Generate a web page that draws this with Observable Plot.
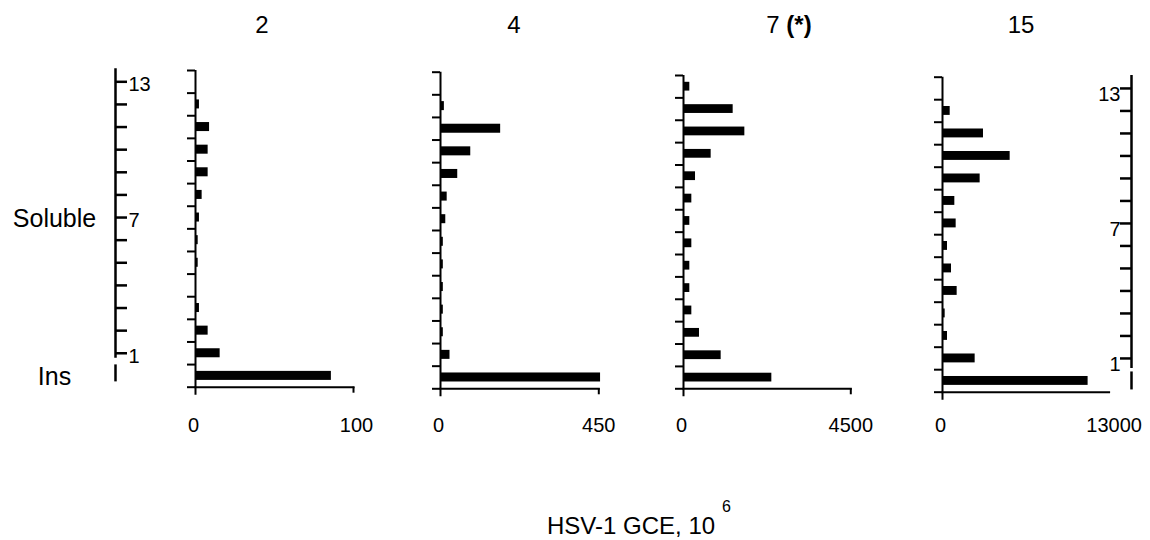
<!DOCTYPE html>
<html>
<head>
<meta charset="utf-8">
<script src="https://cdn.jsdelivr.net/npm/d3@7"></script>
<script src="https://cdn.jsdelivr.net/npm/@observablehq/plot@0.6"></script>
<style>
  body { margin: 0; background: #fff; font-family: "Liberation Sans", Arial, sans-serif; color: #000; }
  #chart { position: relative; width: 1150px; height: 540px; overflow: hidden; background: #fff; }
  #chart svg { position: absolute; top: 0; }
  .title { position: absolute; top: 13px; font-size: 24px; line-height: 24px; white-space: nowrap; transform: translateX(-50%); }
  .xtitle { position: absolute; left: 547px; top: 514px; font-size: 24px; line-height: 24px; white-space: nowrap; }
  .xtitle sup { font-size: 16px; vertical-align: baseline; position: relative; top: -22px; margin-left: 7px; }
</style>
</head>
<body>
<div id="chart"></div>
<script>
// ---- data ----
const days = ["2", "4", "7", "15"];                 // panel titles (days)
const dayMarks = ["", "", "(*)", ""];               // bold marker after title
const fractionIndex = [0, 1, 2, 3, 4, 5, 6, 7, 8, 9, 10, 11, 12, 13]; // 0 = Ins, 1..13 soluble fractions
const fractionNames = ["Ins", "1", "2", "3", "4", "5", "6", "7", "8", "9", "10", "11", "12", "13"];
const axisMax = [100, 450, 4500, 13000];            // x-axis end tick per panel
const gceDay2  = [86, 15.6, 8, 2.5, 0, 1.7, 1.7, 2.5, 4.2, 8, 8, 8.9, 2.5, 0];
const gceDay4  = [455, 27, 8, 8, 8, 8, 8, 15, 19, 49, 86, 171, 11, 0];
const gceDay7  = [2376, 1013, 430, 224, 170, 170, 224, 170, 224, 323, 744, 1650, 1336, 170];
const gceDay15 = [11362, 2548, 390, 208, 1144, 702, 390, 1066, 962, 2938, 5280, 3198, 600, 0];
const rulerLabels = ["13", "7", "1"];
const groupLabels = ["Soluble", "Ins"];
const xTitle = "HSV-1 GCE, 10";
const xTitleExp = "6";

const series = [gceDay2, gceDay4, gceDay7, gceDay15];

// ---- layout (pixels) ----
const H = 470;
const FONT = "Liberation Sans, Arial, sans-serif";
const boxes = [
  {x0: 194.7, x1: 352.7, y0: 70,   y1: 386.7, endTick: true,  title: 262,  labelDx: 3},
  {x0: 440,   x1: 598.3, y0: 71.7, y1: 388.3, endTick: true,  title: 514,  labelDx: 0},
  {x0: 682.7, x1: 850,   y0: 75,   y1: 388.3, endTick: true,  title: 789,  labelDx: 0},
  {x0: 941.7, x1: 1108.3, y0: 76.7, y1: 391.7, endTick: false, title: 1021, labelDx: 5}
];
const LABEL_TOP = 417;

const chart = document.getElementById("chart");
const boundaries = [...fractionIndex.map(f => f - 0.5), fractionIndex[fractionIndex.length - 1] + 0.5];
const soluble = fractionIndex.filter(f => f > 0);
const yDomain = [boundaries[0], boundaries[boundaries.length - 1]];
const svgStyle = {background: "none", overflow: "visible", fontFamily: FONT, fontSize: "20px", color: "#000"};

series.forEach((values, i) => {
  const b = boxes[i];
  const max = axisMax[i];
  const rows = fractionIndex.map((f, k) => ({f, name: fractionNames[k], v: values[k]}));
  const ML = 20, MR = 60;
  const width = ML + (b.x1 - b.x0) + MR;
  const marks = [
    Plot.rect(rows, {x1: 0, x2: "v", y1: d => d.f - 0.5, y2: d => d.f + 0.5, insetTop: 6.8, insetBottom: 6.8, fill: "#000"}),
    Plot.axisY(boundaries, {anchor: "left", tickSize: 8, strokeWidth: 2, fill: "none", label: null}),
    Plot.ruleX([0], {strokeWidth: 2, insetBottom: -8}),
    Plot.frame({anchor: "bottom", strokeWidth: 2}),
    Plot.axisX([0], {anchor: "bottom", tickSize: 0, tickPadding: LABEL_TOP - b.y1, fontSize: 20, dx: -2, tickFormat: d => String(d), label: null}),
    Plot.axisX([max], {anchor: "bottom", tickSize: 0, tickPadding: LABEL_TOP - b.y1, fontSize: 20, dx: b.labelDx, tickFormat: d => String(d), label: null})
  ];
  if (b.endTick) marks.push(Plot.axisX([max], {anchor: "bottom", tickSize: 6, strokeWidth: 2, fill: "none", label: null}));
  const svg = Plot.plot({
    width, height: H,
    marginLeft: ML, marginRight: MR, marginTop: b.y0, marginBottom: H - b.y1,
    x: {domain: [0, max], axis: null},
    y: {domain: yDomain, axis: null},
    style: svgStyle,
    marks
  });
  svg.style.left = (b.x0 - ML) + "px";
  chart.appendChild(svg);

  const t = document.createElement("div");
  t.className = "title";
  t.style.left = b.title + "px";
  t.textContent = days[i];
  if (dayMarks[i]) {
    t.appendChild(document.createTextNode(" "));
    const bm = document.createElement("b");
    bm.textContent = dayMarks[i];
    t.appendChild(bm);
  }
  chart.appendChild(t);
});

// ---- left ruler (aligned with first panel) ----
{
  const b = boxes[0];
  const W = 200, rulerX = 115;
  const svg = Plot.plot({
    width: W, height: H,
    marginLeft: 0, marginRight: W - rulerX, marginTop: b.y0, marginBottom: H - b.y1,
    x: {domain: [0, 1], axis: null},
    y: {domain: yDomain, axis: null},
    style: svgStyle,
    marks: [
      Plot.ruleX([1], {y1: d3.max(soluble), y2: d3.min(soluble), strokeWidth: 2.5, insetTop: -13, insetBottom: -5}),
      Plot.ruleX([1], {y1: 0, y2: 0, strokeWidth: 2.5, insetTop: -11, insetBottom: -6}),
      Plot.axisY(soluble, {anchor: "right", tickSize: 11, strokeWidth: 2.5, fill: "none", label: null}),
      Plot.text(rulerLabels, {x: 1, y: d => +d, dx: 13, dy: 3, textAnchor: "start", fontSize: 20}),
      Plot.text(groupLabels, {x: 0, y: d => d === "Ins" ? 0 : d3.median(soluble), dx: 54, dy: 1, textAnchor: "middle", fontSize: 25})
    ]
  });
  svg.style.left = "0px";
  chart.appendChild(svg);
}

// ---- right ruler (aligned with last panel) ----
{
  const b = boxes[3];
  const left = 1000, rulerX = 1131, W = 150;
  const svg = Plot.plot({
    width: W, height: H,
    marginLeft: rulerX - left, marginRight: 0, marginTop: b.y0, marginBottom: H - b.y1,
    x: {domain: [0, 1], axis: null},
    y: {domain: yDomain, axis: null},
    style: svgStyle,
    marks: [
      Plot.ruleX([0], {y1: d3.max(soluble), y2: d3.min(soluble), strokeWidth: 2.5, insetTop: -13, insetBottom: -10}),
      Plot.ruleX([0], {y1: 0, y2: 0, strokeWidth: 2.5, insetTop: -9, insetBottom: -9}),
      Plot.axisY(soluble, {anchor: "left", tickSize: 11, strokeWidth: 2.5, fill: "none", label: null}),
      Plot.text(rulerLabels, {x: 0, y: d => +d, dx: -11, dy: 6, textAnchor: "end", fontSize: 20})
    ]
  });
  svg.style.left = left + "px";
  chart.appendChild(svg);
}

// ---- x title ----
{
  const d = document.createElement("div");
  d.className = "xtitle";
  d.appendChild(document.createTextNode(xTitle));
  const s = document.createElement("sup");
  s.textContent = xTitleExp;
  d.appendChild(s);
  chart.appendChild(d);
}
</script>
</body>
</html>
